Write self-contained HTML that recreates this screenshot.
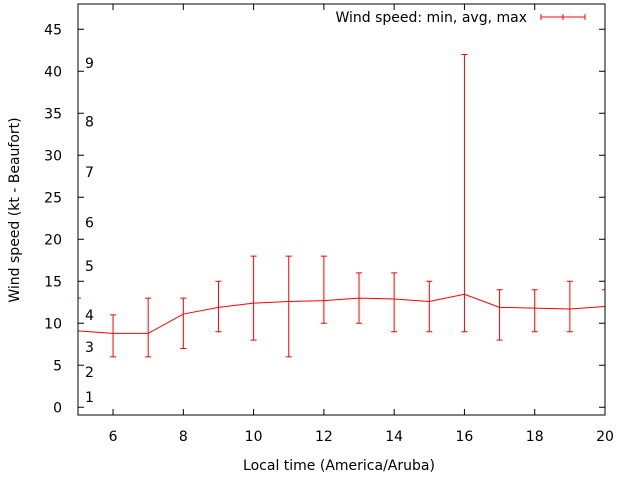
<!DOCTYPE html>
<html><head><meta charset="utf-8"><style>
body{margin:0;background:#fff}
svg{display:block;font-family:"DejaVu Sans","Liberation Sans",sans-serif}
</style></head><body>
<svg id="chart" width="640" height="480" xmlns="http://www.w3.org/2000/svg">
<rect width="640" height="480" fill="#fff"/>
<g id="grid"></g>
<g id="series"></g>
<rect x="78" y="4" width="527" height="411" fill="none" stroke="#000" stroke-width="1"/>
<text transform="translate(19,210) rotate(-90)" text-anchor="middle" font-size="14" fill="#000">Wind speed (kt - Beaufort)</text>
<text x="339" y="470" text-anchor="middle" font-size="14" fill="#000">Local time (America/Aruba)</text>
<g>
<text x="527" y="22" text-anchor="end" font-size="14" fill="#000">Wind speed: min, avg, max</text>
<path d="M541,17H585M541,14V20M563,14V20M585,14V20" stroke="#f00" stroke-width="1" fill="none"/>
</g>
</svg>
<script>
const hours=[5,6,7,8,9,10,11,12,13,14,15,16,17,18,19,20];
const avgSpeed=[9.1,8.8,8.8,11.1,11.9,12.4,12.6,12.7,13.0,12.9,12.6,13.45,11.9,11.8,11.7,12.0];
const minSpeed=[5,6,6,7,9,8,6,10,10,9,9,9,8,9,9,10];
const maxSpeed=[13,11,13,13,15,18,18,18,16,16,15,42,14,14,15,14];
const xTicks=[6,8,10,12,14,16,18,20];
const yTicks=[0,5,10,15,20,25,30,35,40,45];
const beaufortLabels=["1","2","3","4","5","6","7","8","9"];
const beaufortPos=[1.2,4.2,7.2,11,16.8,22,28,34,41];
const NS="http://www.w3.org/2000/svg";
const X=v=>77.9+(v-5)*35.14;
const Y=v=>407.3-v*8.4;
function mk(t,a,p){const e=document.createElementNS(NS,t);for(const k in a)e.setAttribute(k,a[k]);p.appendChild(e);return e;}
const g=document.getElementById('grid'),s=document.getElementById('series');
xTicks.forEach(v=>{
 const l=mk('path',{d:`M${X(v)},415v-6M${X(v)},4v6`,stroke:'#000'},g);
 
 
 const t=mk('text',{x:X(v),y:441,'text-anchor':'middle','font-size':14},g);t.textContent=v;
 
 
});
yTicks.forEach(v=>{
 const l=mk('path',{d:`M78,${Y(v)}h6M605,${Y(v)}h-6`,stroke:'#000'},g);
 
 
 const t=mk('text',{x:62,y:Y(v)+5,'text-anchor':'end','font-size':14},g);t.textContent=v;
 
 
});
beaufortLabels.forEach((b,i)=>{
 const t=mk('text',{x:85,y:Y(beaufortPos[i])+5,'font-size':14},g);t.textContent=b;
 
 
});
const clip=mk('clipPath',{id:'pc'},s);mk('rect',{x:78,y:4,width:527,height:411},clip);
const sg=mk('g',{'clip-path':'url(#pc)'},s);
const line=mk('polyline',{points:hours.map((h,i)=>X(h)+','+Y(avgSpeed[i])).join(' '),fill:'none',stroke:'#f00'},sg);


hours.forEach((h,i)=>{
 const x=X(h),a=Y(minSpeed[i]),b=Y(maxSpeed[i]);
 const e=mk('path',{d:`M${x},${a}V${b}M${x-3},${a}h6M${x-3},${b}h6`,stroke:'#f00',fill:'none'},sg);
 
 
});
</script>
</body></html>
